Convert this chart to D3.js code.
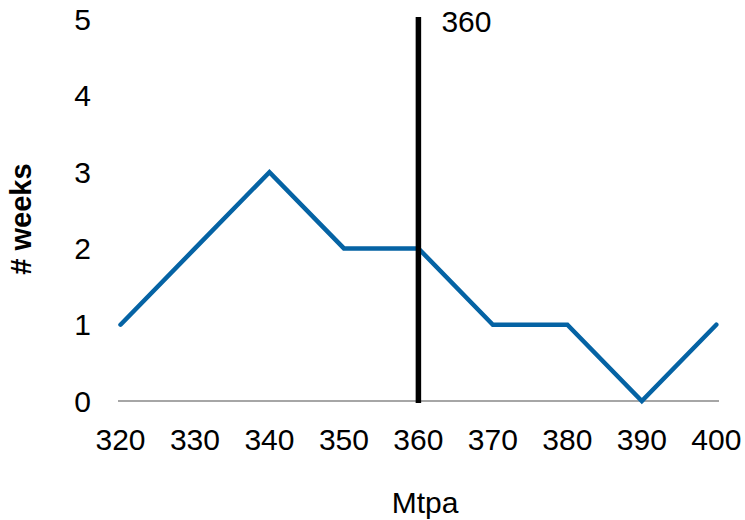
<!DOCTYPE html>
<html>
<head>
<meta charset="utf-8">
<script src="https://cdn.jsdelivr.net/npm/d3@7"></script>
<style>
  html, body { margin: 0; padding: 0; background: #fff; }
  svg text { font-family: "Liberation Sans", Arial, sans-serif; fill: #000; }
</style>
</head>
<body>
<svg id="chart" width="745" height="520"></svg>
<script>
// Weekly counts by throughput bucket (Mtpa)
const categories = [320, 330, 340, 350, 360, 370, 380, 390, 400];
const weeks = [1, 2, 3, 2, 2, 1, 1, 0, 1];
const yTicks = [0, 1, 2, 3, 4, 5];
const markerValue = 360;
const markerLabel = "360";
const xTitle = "Mtpa";
const yTitle = "# weeks";

const svg = d3.select("#chart");

const x = d3.scaleLinear().domain([320, 400]).range([120.5, 716.3]);
const y = d3.scaleLinear().domain([0, 5]).range([401, 19.5]);

// horizontal axis line
svg.append("line")
  .attr("x1", 118).attr("x2", 719)
  .attr("y1", y(0)).attr("y2", y(0))
  .attr("stroke", "#a6a6a6").attr("stroke-width", 2);

// y tick labels
svg.append("g").selectAll("text")
  .data(yTicks).join("text")
  .attr("x", 91).attr("y", d => y(d))
  .attr("dy", "0.35em")
  .attr("text-anchor", "end")
  .attr("font-size", 30)
  .text(d => d);

// x tick labels
svg.append("g").selectAll("text")
  .data(categories).join("text")
  .attr("x", d => x(d)).attr("y", 439)
  .attr("dy", "0.35em")
  .attr("text-anchor", "middle")
  .attr("font-size", 30)
  .text(d => d);

// series line
svg.append("path")
  .datum(categories.map((c, i) => [c, weeks[i]]))
  .attr("fill", "none")
  .attr("stroke", "#0563a4")
  .attr("stroke-width", 4.5)
  .attr("stroke-linejoin", "miter")
  .attr("stroke-linecap", "round")
  .attr("d", d3.line().x(d => x(d[0])).y(d => y(d[1])));

// reference marker
svg.append("line")
  .attr("x1", x(markerValue)).attr("x2", x(markerValue))
  .attr("y1", 17).attr("y2", 403)
  .attr("stroke", "#000").attr("stroke-width", 5.5);

svg.append("text")
  .attr("x", x(markerValue) + 23).attr("y", 21)
  .attr("dy", "0.35em")
  .attr("font-size", 30)
  .text(markerLabel);

// axis titles
svg.append("text")
  .attr("x", 425).attr("y", 502)
  .attr("dy", "0.35em")
  .attr("text-anchor", "middle")
  .attr("font-size", 30)
  .text(xTitle);

svg.append("text")
  .attr("transform", "translate(21,219) rotate(-90)")
  .attr("dy", "0.35em")
  .attr("text-anchor", "middle")
  .attr("font-size", 29)
  .attr("font-weight", "bold")
  .text(yTitle);
</script>
</body>
</html>
